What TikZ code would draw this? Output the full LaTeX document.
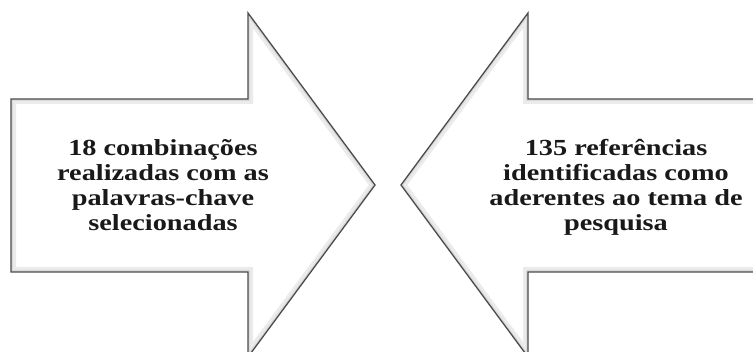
\documentclass[tikz,border=0pt]{standalone}
\usepackage{fontspec}
\newfontfamily\tfont{Liberation Serif}[FakeStretch=1.23]
\begin{document}
\begin{tikzpicture}[x=1pt,y=-1pt,
  arrowshape/.style={draw=black!70, line width=1.3pt, line join=miter},
  glowA/.style={draw=black!8, line width=10pt},
  glowB/.style={draw=black!14, line width=4pt},
  lbl/.style={align=center, inner sep=0pt, text=black!90,
    font=\tfont\bfseries\fontsize{23}{25}\selectfont}]
\clip (0,0) rectangle (753,352);
\fill[white] (0,0) rectangle (753,352);
\def\leftarrowpath{(11,99) -- (248,99) -- (248,13) -- (375,185) -- (248,357) -- (248,272) -- (11,272) -- cycle}
\def\rightarrowpath{(765,99) -- (528,99) -- (528,13) -- (401,185) -- (528,357) -- (528,272) -- (765,272) -- cycle}
% left arrow
\begin{scope}
  \clip \leftarrowpath;
  \draw[glowA] \leftarrowpath;
  \draw[glowB] \leftarrowpath;
\end{scope}
\draw[arrowshape] \leftarrowpath;
% right arrow
\begin{scope}
  \clip \rightarrowpath;
  \draw[glowA] \rightarrowpath;
  \draw[glowB] \rightarrowpath;
\end{scope}
\draw[arrowshape] \rightarrowpath;
% texts
\node[lbl] (t1) at (163,185)
  {18 combinações\\realizadas com as\\palavras-chave\\selecionadas};
\node[lbl] (t2) at (616,187.5)
  {135 referências\\identificadas como\\aderentes ao tema de\\pesquisa};
\end{tikzpicture}
\end{document}
